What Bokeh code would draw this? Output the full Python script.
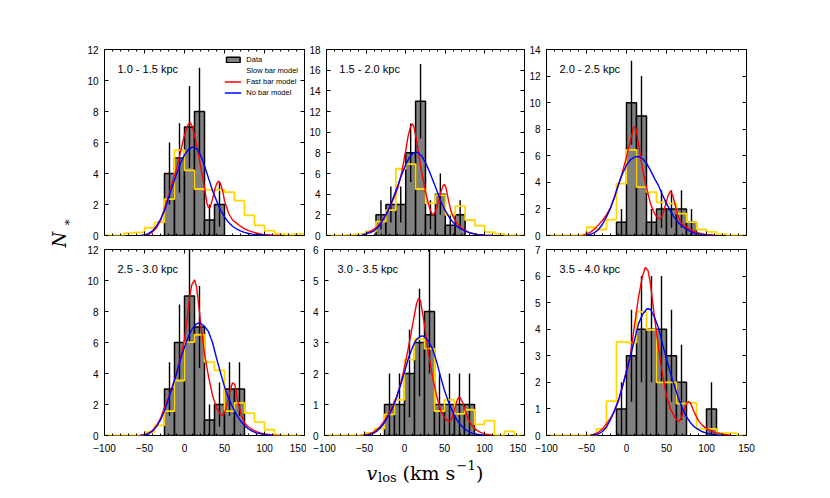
import numpy as np
from bokeh.plotting import figure
from bokeh.models import Range1d, SingleIntervalTicker, LinearAxis, Legend, LegendItem
from bokeh.layouts import row, column
from bokeh.embed import file_html
from bokeh.resources import INLINE
from bokeh.core.properties import value

# ---------------- data ----------------
edges = [-100.0, -87.5, -75.0, -62.5, -50.0, -37.5, -25.0, -12.5, 0.0, 12.5, 25.0,
         37.5, 50.0, 62.5, 75.0, 87.5, 100.0, 112.5, 125.0, 137.5, 150.0]

labels = ["1.0 - 1.5 kpc", "1.5 - 2.0 kpc", "2.0 - 2.5 kpc",
          "2.5 - 3.0 kpc", "3.0 - 3.5 kpc", "3.5 - 4.0 kpc"]
ymax = [12, 18, 14, 12, 6, 7]
ystep = [2, 2, 2, 2, 1, 1]

counts1 = [0, 0, 0, 0, 0, 0, 4, 5, 7, 8, 1, 2, 0, 0, 0, 0, 0, 0, 0, 0]
counts2 = [0, 0, 0, 0, 0, 2, 3, 3, 8, 13, 2, 4, 1, 2, 0, 0, 0, 0, 0, 0]
counts3 = [0, 0, 0, 0, 0, 0, 0, 1, 10, 9, 1, 2, 2, 2, 1, 0, 0, 0, 0, 0]
counts4 = [0, 0, 0, 0, 0, 0, 3, 6, 9, 7, 1, 2, 3, 3, 0, 0, 0, 0, 0, 0]
counts5 = [0, 0, 0, 0, 0, 0, 1, 1, 2, 3, 4, 1, 1, 1, 1, 0, 0, 0, 0, 0]
counts6 = [0, 0, 0, 0, 0, 0, 0, 1, 3, 4, 4, 4, 3, 2, 0, 0, 1, 0, 0, 0]

slow1 = [0, 0, 0.15, 0.2, 0.5, 0.85, 2.35, 5.5, 4.2, 3.0, 2.95, 2.95, 2.8, 2.25, 1.3, 0.65, 0.32, 0.1, 0.05, 0.1]
slow2 = [0, 0, 0.06, 0.16, 0.4, 1.35, 2.45, 6.46, 6.9, 4.5, 3.1, 3.9, 2.0, 2.85, 1.5, 0.95, 0.32, 0.16, 0, 0]
slow3 = [0, 0, 0, 0, 0.62, 0.45, 1.2, 3.9, 6.45, 3.64, 3.27, 2.5, 2.4, 1.65, 1.0, 0.45, 0.27, 0.1, 0, 0]
slow4 = [0, 0, 0, 0, 0.22, 0.65, 1.57, 3.55, 6.03, 6.5, 4.74, 4.2, 1.57, 2.1, 1.44, 0.86, 0.37, 0, 0, 0]
slow5 = [0, 0, 0, 0, 0.08, 0.22, 0.68, 1.15, 2.45, 3.12, 2.8, 0.79, 1.15, 0.7, 0.83, 0.36, 0.48, 0, 0.13, 0]
slow6 = [0, 0, 0, 0, 0, 0.25, 1.29, 3.52, 3.5, 4.65, 3.98, 2.0, 2.0, 1.2, 1.23, 0.25, 0.25, 0.09, 0.09, 0]

fast1_x = [-55, -50, -45, -40, -35, -30, -25, -20, -15, -10, -5, 0, 5, 7, 10, 15, 20, 25, 28, 30, 32, 35,
           38, 40, 42, 44, 46, 48, 50, 55, 60, 65, 70, 75, 80, 85, 90, 95, 100, 110, 120]
fast1_y = [0.0, 0.02, 0.08, 0.22, 0.5, 0.95, 1.75, 2.55, 3.4, 4.3, 5.4, 6.5, 7.2, 7.3, 7.0, 5.9, 4.5, 3.1,
           2.1, 1.78, 1.8, 2.35, 3.0, 3.3, 3.5, 3.45, 3.2, 2.8, 2.25, 1.45, 1.0, 0.8, 0.6, 0.43, 0.32,
           0.23, 0.16, 0.1, 0.06, 0.02, 0.0]
nobar1_x = [-55, -50, -45, -40, -35, -30, -25, -20, -15, -10, -5, 0, 5, 10, 15, 20, 25, 30, 35, 40, 45,
            50, 55, 60, 65, 70, 75, 80, 85, 90, 100, 110]
nobar1_y = [0.01, 0.04, 0.12, 0.3, 0.6, 1.05, 1.6, 2.4, 3.2, 3.95, 4.65, 5.2, 5.55, 5.7, 5.6, 5.2, 4.5,
            3.7, 2.9, 2.25, 1.65, 1.2, 0.85, 0.6, 0.42, 0.3, 0.2, 0.13, 0.09, 0.06, 0.02, 0.0]

fast2_x = [-55, -50, -45, -40, -35, -30, -25, -20, -15, -10, -5, 0, 3, 6, 8, 10, 13, 15, 20, 25, 30, 33,
           35, 38, 41, 44, 47, 49, 51, 54, 57, 60, 65, 70, 75, 80, 85, 90, 100, 110]
fast2_y = [0.05, 0.18, 0.4, 0.62, 0.9, 1.4, 2.0, 2.75, 3.6, 4.6, 6.1, 8.2, 9.6, 10.5, 10.8, 10.6, 9.5,
           8.6, 6.2, 4.2, 2.7, 2.1, 2.0, 2.4, 3.2, 4.1, 4.8, 4.95, 4.6, 3.4, 2.4, 1.8, 1.15, 0.75, 0.5,
           0.3, 0.18, 0.1, 0.03, 0.0]
nobar2_x = [-55, -50, -45, -40, -35, -30, -25, -20, -15, -10, -5, 0, 5, 10, 12.5, 15, 20, 25, 30, 35, 40,
            45, 50, 55, 60, 65, 70, 75, 80, 90, 100, 110]
nobar2_y = [0.05, 0.15, 0.28, 0.45, 0.8, 1.35, 2.0, 2.8, 3.8, 4.85, 5.9, 6.85, 7.6, 8.0, 8.08, 8.05, 7.7,
            7.05, 6.2, 5.2, 4.2, 3.2, 2.4, 1.75, 1.25, 0.85, 0.65, 0.45, 0.28, 0.1, 0.03, 0.0]

fast3_x = [-55, -50, -45, -40, -35, -30, -25, -20, -15, -10, -5, 0, 5, 8, 10, 12, 15, 20, 25, 30, 35, 40,
           43, 46, 49, 52, 55, 58, 61, 64, 67, 70, 75, 80, 85, 90, 95, 100, 110]
fast3_y = [0.03, 0.12, 0.25, 0.48, 0.8, 1.15, 1.55, 2.1, 2.9, 3.8, 4.8, 5.9, 7.2, 7.9, 8.2, 8.0, 6.9, 5.0,
           3.6, 2.4, 1.65, 1.25, 1.3, 1.7, 2.35, 3.0, 3.34, 3.0, 2.25, 1.5, 1.05, 0.85, 0.63, 0.45, 0.3,
           0.2, 0.12, 0.08, 0.02]
nobar3_x = [-50, -45, -40, -35, -30, -25, -20, -15, -10, -5, 0, 5, 10, 15, 20, 25, 30, 35, 40, 45, 50,
            55, 60, 65, 70, 75, 80, 85, 90, 100, 110]
nobar3_y = [0.03, 0.09, 0.22, 0.45, 0.85, 1.4, 2.05, 2.9, 3.85, 4.65, 5.3, 5.7, 5.9, 5.95, 5.8, 5.45,
            4.9, 4.3, 3.75, 3.05, 2.4, 1.85, 1.35, 0.95, 0.68, 0.48, 0.3, 0.18, 0.12, 0.03, 0.0]

fast4_x = [-55, -50, -45, -40, -35, -30, -25, -20, -15, -10, -5, 0, 3, 6, 9, 12.5, 15, 18, 21, 25, 30,
           35, 40, 45, 48, 51, 54, 57, 60, 63, 66, 70, 75, 80, 85, 90, 95, 100, 110, 120]
fast4_y = [0.02, 0.06, 0.15, 0.33, 0.62, 1.1, 1.8, 2.45, 3.2, 4.0, 5.0, 6.2, 7.4, 8.8, 9.7, 10.05, 9.6,
           8.3, 6.9, 5.3, 3.8, 2.6, 1.8, 1.35, 1.3, 1.6, 2.2, 2.9, 3.4, 3.3, 2.35, 1.5, 0.8, 0.55, 0.38,
           0.25, 0.17, 0.1, 0.03, 0.0]
nobar4_x = [-55, -50, -45, -40, -35, -30, -25, -20, -15, -10, -5, 0, 5, 10, 15, 17.5, 20, 25, 30, 35, 40,
            45, 50, 55, 60, 65, 70, 75, 80, 85, 90, 100, 110]
nobar4_y = [0.01, 0.03, 0.1, 0.28, 0.58, 1.0, 1.6, 2.35, 3.15, 4.0, 4.9, 5.7, 6.4, 6.9, 7.2, 7.26, 7.24,
            7.05, 6.7, 6.0, 5.0, 4.05, 3.15, 2.4, 1.85, 1.35, 0.95, 0.65, 0.42, 0.27, 0.16, 0.06, 0.01]

fast5_x = [-55, -50, -45, -40, -35, -30, -25, -20, -15, -10, -5, 0, 5, 10, 15, 17.5, 20, 25, 30, 35, 40,
           45, 50, 55, 58, 61, 64, 66, 68, 70, 73, 76, 80, 85, 90, 95, 100, 110]
fast5_y = [0.0, 0.02, 0.04, 0.09, 0.18, 0.3, 0.48, 0.7, 0.95, 1.25, 1.65, 2.2, 2.85, 3.55, 4.25, 4.42,
           4.35, 3.55, 2.65, 1.9, 1.3, 0.82, 0.58, 0.45, 0.47, 0.7, 0.98, 1.15, 1.24, 1.2, 1.05, 0.8,
           0.5, 0.3, 0.17, 0.1, 0.05, 0.01]
nobar5_x = [-50, -45, -40, -35, -30, -25, -20, -15, -10, -5, 0, 5, 10, 15, 20, 22.5, 25, 30, 35, 40, 45,
            50, 55, 60, 65, 70, 75, 80, 85, 90, 100]
nobar5_y = [0.01, 0.02, 0.06, 0.13, 0.25, 0.42, 0.63, 0.88, 1.22, 1.62, 2.05, 2.5, 2.85, 3.1, 3.2, 3.21,
            3.18, 3.05, 2.8, 2.4, 1.9, 1.45, 1.08, 0.78, 0.52, 0.35, 0.22, 0.13, 0.07, 0.04, 0.01]

fast6_x = [-45, -40, -35, -30, -25, -20, -15, -10, -5, 0, 5, 10, 15, 20, 23.5, 27, 30, 35, 40, 45, 50,
           55, 60, 63, 66, 69, 72, 75, 77.5, 80, 85, 90, 95, 100, 105, 110, 120, 130]
fast6_y = [0.02, 0.05, 0.12, 0.25, 0.44, 0.65, 0.9, 1.3, 1.85, 2.45, 3.05, 4.15, 5.2, 6.0, 6.32, 6.2,
           5.7, 4.45, 3.3, 2.3, 1.5, 1.0, 0.7, 0.57, 0.53, 0.7, 0.98, 1.2, 1.28, 1.22, 0.85, 0.55, 0.38,
           0.26, 0.18, 0.12, 0.05, 0.01]
nobar6_x = [-45, -40, -35, -30, -25, -20, -15, -10, -5, 0, 5, 10, 15, 20, 25, 27, 30, 35, 40, 45, 50, 55,
            60, 65, 70, 75, 80, 85, 90, 95, 100, 110, 120]
nobar6_y = [0.0, 0.02, 0.06, 0.15, 0.32, 0.6, 0.95, 1.35, 1.85, 2.4, 3.0, 3.6, 4.2, 4.55, 4.75, 4.77,
            4.75, 4.45, 4.05, 3.45, 2.9, 2.35, 1.85, 1.4, 1.0, 0.7, 0.48, 0.32, 0.22, 0.14, 0.09, 0.03,
            0.01]

counts = [counts1, counts2, counts3, counts4, counts5, counts6]
slows = [slow1, slow2, slow3, slow4, slow5, slow6]
fasts = [(fast1_x, fast1_y), (fast2_x, fast2_y), (fast3_x, fast3_y),
         (fast4_x, fast4_y), (fast5_x, fast5_y), (fast6_x, fast6_y)]
nobars = [(nobar1_x, nobar1_y), (nobar2_x, nobar2_y), (nobar3_x, nobar3_y),
          (nobar4_x, nobar4_y), (nobar5_x, nobar5_y), (nobar6_x, nobar6_y)]

# ---------------- styling ----------------
GRAY = "#808080"
GOLD = "#FFD700"
FRAME_W, FRAME_H = 200, 186
TICK_FONT = "Liberation Sans"


def no_grid(p):
    for g in p.grid:
        g.visible = False


def style_axis(ax, show_labels, standoff=6):
    ax.axis_line_color = None
    ax.major_tick_in = 4
    ax.major_tick_out = 0
    ax.minor_tick_in = 2
    ax.minor_tick_out = 0
    ax.major_tick_line_color = "black"
    ax.minor_tick_line_color = "black"
    ax.major_tick_line_width = 1
    ax.minor_tick_line_width = 1
    ax.axis_label = None
    if show_labels:
        ax.major_label_text_font = TICK_FONT
        ax.major_label_text_font_size = "10px"
        ax.major_label_text_color = "black"
        ax.major_label_standoff = standoff
    else:
        ax.major_label_text_font_size = "0px"
        ax.major_label_text_alpha = 0
        ax.major_label_standoff = 0


def step_path(vals):
    xs, ys = [], []
    for k, v in enumerate(vals):
        xs += [edges[k], edges[k + 1]]
        ys += [v, v]
    return xs, ys


def make_panel(i, bl, br, bt, bb, show_x):
    w = bl + FRAME_W + br
    h = bt + FRAME_H + bb
    p = figure(width=w, height=h, x_range=Range1d(-100, 150), y_range=Range1d(0, ymax[i]),
               output_backend="svg", toolbar_location=None,
               x_axis_location=None, y_axis_location=None,
               min_border_left=bl, min_border_right=br, min_border_top=bt, min_border_bottom=bb)
    no_grid(p)
    p.outline_line_color = "black"
    p.outline_line_width = 1
    p.background_fill_color = "white"
    p.border_fill_color = "white"

    def xt():
        return SingleIntervalTicker(interval=50, num_minor_ticks=5)

    def yt():
        return SingleIntervalTicker(interval=ystep[i], num_minor_ticks=0)

    ax_b = LinearAxis(ticker=xt())
    style_axis(ax_b, show_x, standoff=8)
    ax_b.major_label_overrides = {-100: "\u2212100", -50: "\u221250"}
    p.add_layout(ax_b, "below")
    ax_t = LinearAxis(ticker=xt())
    style_axis(ax_t, False)
    p.add_layout(ax_t, "above")
    ax_l = LinearAxis(ticker=yt())
    style_axis(ax_l, True, standoff=6)
    p.add_layout(ax_l, "left")
    ax_r = LinearAxis(ticker=yt())
    style_axis(ax_r, False)
    p.add_layout(ax_r, "right")

    c = np.array(counts[i], dtype=float)
    lo = np.array(edges[:-1])
    hi = np.array(edges[1:])
    m = c > 0
    bars = p.quad(left=lo[m], right=hi[m], bottom=0, top=c[m],
                  fill_color=GRAY, line_color="black", line_width=1.5)
    ctr = (lo[m] + hi[m]) / 2
    err = np.sqrt(c[m])
    p.segment(x0=ctr, y0=c[m] - err, x1=ctr, y1=c[m] + err, line_color="black", line_width=1.4)

    sx, sy = step_path(slows[i])
    p.line(sx, sy, line_color=GOLD, line_width=1.8)

    fx, fy = fasts[i]
    red = p.line(fx, fy, line_color="red", line_width=1.4)
    nx, ny = nobars[i]
    blue = p.line(nx, ny, line_color="blue", line_width=1.4)

    px_x = FRAME_W / 250.0
    px_y = FRAME_H / float(ymax[i])
    p.text(x=[-100 + 13 / px_x], y=[ymax[i] - 19.5 / px_y], text=[labels[i]],
           text_font=value("Liberation Sans"), text_font_size="11px",
           text_align="left", text_baseline="middle", text_color="black")

    if i == 0:
        proxy = p.quad(left=[], right=[], top=[], bottom=[], fill_color=None,
                       line_color=GOLD, line_width=1.8)
        leg = Legend(items=[LegendItem(label="Data", renderers=[bars]),
                            LegendItem(label="Slow bar model", renderers=[proxy]),
                            LegendItem(label="Fast bar model", renderers=[red]),
                            LegendItem(label="No bar model", renderers=[blue])],
                     location="top_right")
        leg.border_line_color = None
        leg.background_fill_alpha = 0
        leg.label_text_font = "Liberation Sans"
        leg.label_text_font_size = "7.5px"
        leg.label_text_color = "black"
        leg.glyph_width = 17
        leg.glyph_height = 7
        leg.label_height = 7
        leg.label_width = 47
        leg.label_standoff = 5
        leg.spacing = 2
        leg.padding = 6
        leg.margin = 6
        p.add_layout(leg)
    return p


LEFT_W = 80
p1 = make_panel(0, 24, 2, 49, 7, False)
p2 = make_panel(1, 18, 2, 49, 7, False)
p3 = make_panel(2, 20, 12, 49, 7, False)
p4 = make_panel(3, 24, 2, 7, 22, True)
p5 = make_panel(4, 18, 2, 7, 22, True)
p6 = make_panel(5, 20, 12, 7, 22, True)

# x-axis label strip (x coordinate = page x - LEFT_W)
XL_W, XL_H = 678, 36
xl = figure(width=XL_W, height=XL_H, x_range=Range1d(0, XL_W), y_range=Range1d(0, XL_H),
            output_backend="svg", toolbar_location=None, x_axis_location=None,
            y_axis_location=None, min_border=0)
no_grid(xl)
xl.outline_line_color = None
serif = value("DejaVu Serif")
base = 21
xl.text(x=[286], y=[base], text=["v"], text_font=serif, text_font_style="italic",
        text_font_size="19px", text_align="left", text_baseline="alphabetic")
xl.text(x=[297.5], y=[base - 4.5], text=["los"], text_font=serif,
        text_font_size="13px", text_align="left", text_baseline="alphabetic")
xl.text(x=[322], y=[base], text=["(km s"], text_font=serif,
        text_font_size="19px", text_align="left", text_baseline="alphabetic")
xl.text(x=[376], y=[base + 7.5], text=["\u22121"], text_font=serif,
        text_font_size="13px", text_align="left", text_baseline="alphabetic")
xl.text(x=[395.5], y=[base], text=[")"], text_font=serif,
        text_font_size="19px", text_align="left", text_baseline="alphabetic")

# y-axis label strip (y coordinate = height - page y)
YL_W, YL_H = LEFT_W, 242 + 215 + XL_H
yl = figure(width=YL_W, height=YL_H, x_range=Range1d(0, YL_W), y_range=Range1d(0, YL_H),
            output_backend="svg", toolbar_location=None, x_axis_location=None,
            y_axis_location=None, min_border=0)
no_grid(yl)
yl.outline_line_color = None
yl.text(x=[59], y=[YL_H - 239], text=["N"], angle=np.pi / 2, text_font=serif,
        text_font_style="italic", text_font_size="18px", text_align="center",
        text_baseline="middle")
yl.text(x=[66], y=[YL_H - 222], text=["\u2217"], angle=np.pi / 2, text_font=serif,
        text_font_size="12px", text_align="center", text_baseline="middle")

layout = row(yl, column(row(p1, p2, p3), row(p4, p5, p6), xl))

with open("out.html", "w") as f:
    f.write(file_html(layout, INLINE))
